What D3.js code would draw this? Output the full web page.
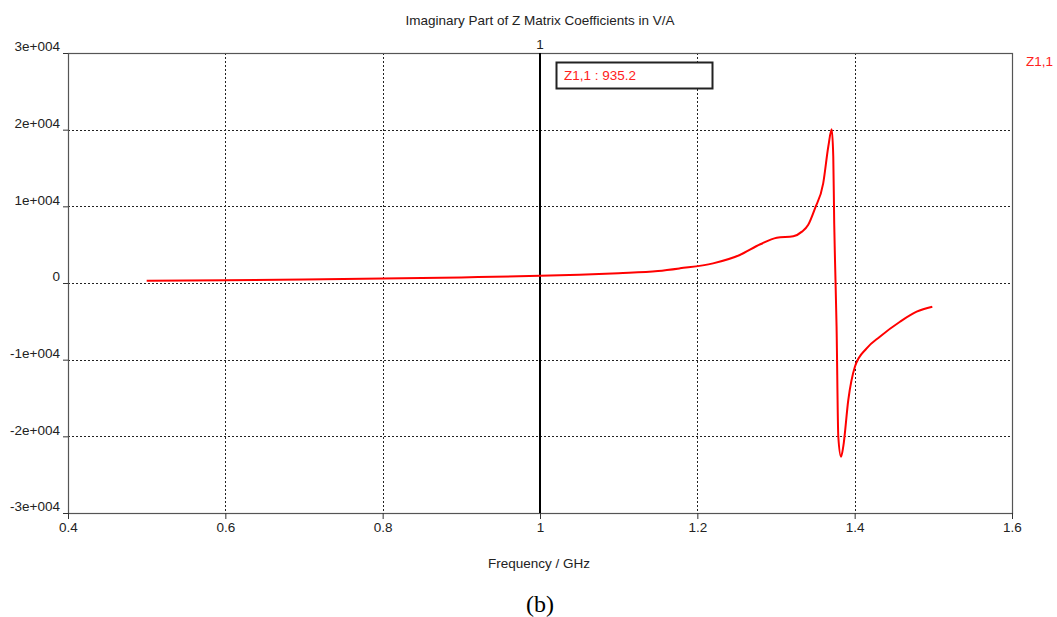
<!DOCTYPE html>
<html>
<head>
<meta charset="utf-8">
<title>Imaginary Part of Z Matrix</title>
<script src="https://d3js.org/d3.v7.min.js"></script>
<style>
  body { margin: 0; background: #fff; }
  text { font-family: "Liberation Sans", Arial, sans-serif; }
  text.serif { font-family: "Liberation Serif", "Times New Roman", serif; }
</style>
</head>
<body>
<div id="chart"></div>
<script>
// values
const freq = [0.5, 0.6, 0.7, 0.8, 0.9, 1.0, 1.05, 1.1, 1.15, 1.178, 1.22, 1.254, 1.28, 1.301, 1.322,
  1.333, 1.341, 1.3496, 1.36, 1.3665, 1.3708, 1.3728, 1.374, 1.375, 1.377, 1.3792, 1.3826, 1.3855,
  1.3919, 1.4004, 1.4152, 1.432, 1.4576, 1.4788, 1.4987];
const imZ = [300, 360, 460, 580, 730, 935.2, 1080, 1280, 1560, 1910, 2560, 3650, 5050, 5900, 6100,
  6700, 7600, 9740, 13000, 17800, 20050, 16500, 7800, 3000, -5700, -20050, -22650, -21350,
  -15260, -10900, -8520, -7000, -5050, -3740, -3090];
const xTicks = [0.4, 0.6, 0.8, 1, 1.2, 1.4, 1.6];
const yTicks = [-30000, -20000, -10000, 0, 10000, 20000, 30000];
const yTickLabels = ["-3e+004", "-2e+004", "-1e+004", "0", "1e+004", "2e+004", "3e+004"];
const markerFreq = 1.0;
const markerLabel = "Z1,1 : 935.2";
const seriesName = "Z1,1";

const W = 1057, H = 617;
const margin = {top: 53, right: 45, bottom: 104, left: 68};
const w = W - margin.left - margin.right;
const h = H - margin.top - margin.bottom;
const fs = 13.5;

const svg = d3.select("#chart").append("svg")
  .attr("width", W).attr("height", H);

const g = svg.append("g")
  .attr("transform", "translate(" + margin.left + "," + margin.top + ")");

const x = d3.scaleLinear().domain([0.4, 1.6]).range([0, w]);
const y = d3.scaleLinear().domain([-30000, 30000]).range([h, 0]);

// grid
g.append("g").selectAll("line")
  .data(xTicks.slice(1, -1))
  .join("line")
  .attr("x1", d => Math.round(x(d)) + 0.5).attr("x2", d => Math.round(x(d)) + 0.5)
  .attr("y1", 0).attr("y2", h)
  .attr("stroke", "#222").attr("stroke-dasharray", "2,2");
g.append("g").selectAll("line")
  .data(yTicks.slice(1, -1))
  .join("line")
  .attr("y1", d => Math.round(y(d)) + 0.5).attr("y2", d => Math.round(y(d)) + 0.5)
  .attr("x1", 0).attr("x2", w)
  .attr("stroke", "#222").attr("stroke-dasharray", "2,2");

// frame
g.append("rect")
  .attr("x", 0.5).attr("y", 0.5).attr("width", w).attr("height", h)
  .attr("fill", "none").attr("stroke", "#555").attr("stroke-width", 1.2);

// axes
const xAxis = d3.axisBottom(x).tickValues(xTicks).tickSize(6).tickPadding(3)
  .tickFormat(d3.format("~g"));
const gx = g.append("g").attr("transform", "translate(0," + h + ")").call(xAxis);
gx.select(".domain").remove();
gx.selectAll(".tick line").attr("stroke", "#333");
gx.selectAll(".tick text").attr("font-size", fs).attr("fill", "#222")
  .attr("font-family", null);

const yAxis = d3.axisLeft(y).tickValues(yTicks).tickSize(5).tickPadding(3)
  .tickFormat((d, i) => yTickLabels[i]);
const gy = g.append("g").call(yAxis);
gy.select(".domain").remove();
gy.selectAll(".tick line").attr("stroke", "#333");
gy.selectAll(".tick text").attr("font-size", fs).attr("fill", "#222")
  .attr("font-family", null)
  .attr("dy", "-0.15em");

// marker line
g.append("line")
  .attr("x1", x(markerFreq)).attr("x2", x(markerFreq))
  .attr("y1", 0).attr("y2", h)
  .attr("stroke", "#000").attr("stroke-width", 2);
g.append("text")
  .attr("x", x(markerFreq)).attr("y", -4)
  .attr("text-anchor", "middle").attr("font-size", fs).attr("fill", "#222")
  .text("1");

// curve
const pts = freq.map((f, i) => [f, imZ[i]]);
const line = d3.line()
  .x(d => x(d[0])).y(d => y(d[1]))
  .curve(d3.curveMonotoneX);
g.append("path")
  .datum(pts)
  .attr("d", line)
  .attr("fill", "none")
  .attr("stroke", "#ff0000")
  .attr("stroke-width", 2);

// marker readout box
const bx = x(markerFreq) + 16, by = 9;
g.append("rect")
  .attr("x", bx + 0.5).attr("y", by + 0.5).attr("width", 156).attr("height", 26)
  .attr("fill", "#fff").attr("stroke", "#222").attr("stroke-width", 2);
g.append("text")
  .attr("x", bx + 8).attr("y", by + 18)
  .attr("font-size", fs).attr("fill", "#ff2020")
  .text(markerLabel);

// legend
svg.append("text")
  .attr("x", 1026).attr("y", 66)
  .attr("font-size", fs).attr("fill", "#ff2020")
  .text(seriesName);

// titles
svg.append("text")
  .attr("x", 540).attr("y", 25)
  .attr("text-anchor", "middle").attr("font-size", fs).attr("fill", "#222")
  .text("Imaginary Part of Z Matrix Coefficients in V/A");
svg.append("text")
  .attr("x", 539).attr("y", 568)
  .attr("text-anchor", "middle").attr("font-size", fs).attr("fill", "#222")
  .text("Frequency / GHz");
svg.append("text")
  .attr("class", "serif")
  .attr("x", 540).attr("y", 612)
  .attr("text-anchor", "middle").attr("font-size", 24)
  .attr("fill", "#000")
  .text("(b)");
</script>
</body>
</html>
